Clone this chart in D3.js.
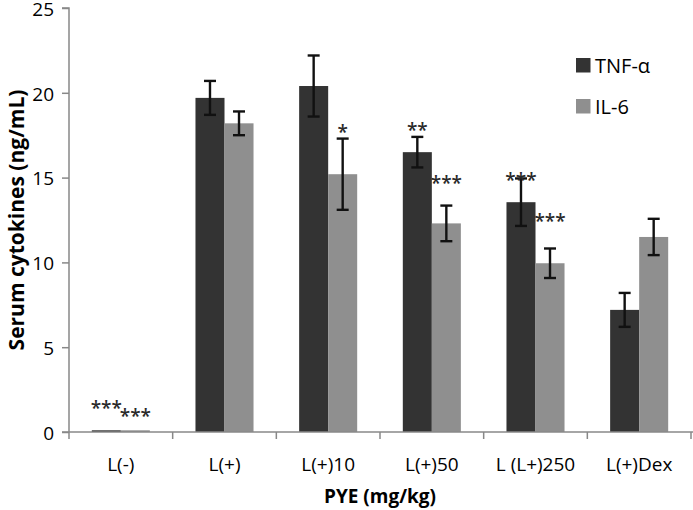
<!DOCTYPE html>
<html><head><meta charset="utf-8">
<script src="https://cdn.jsdelivr.net/npm/d3@7"></script>
<style>
html,body{margin:0;padding:0;background:#fff;}
svg{display:block;}
text{font-family:"Open Sans",sans-serif;}
</style></head>
<body>
<svg id="chart" width="693" height="510"></svg>
<script>
const categories = ["L(-)", "L(+)", "L(+)10", "L(+)50", "L (L+)250", "L(+)Dex"];
const seriesNames = ["TNF-α", "IL-6"];
const tnfValues = [0.1, 19.7, 20.4, 16.5, 13.55, 7.2];
const tnfErrors = [0, 1.0, 1.8, 0.9, 1.4, 1.0];
const il6Values = [0.1, 18.2, 15.2, 12.3, 9.95, 11.5];
const il6Errors = [0, 0.7, 2.1, 1.05, 0.87, 1.07];
const tnfSig = ["***", "", "", "**", "***", ""];
const il6Sig = ["***", "", "*", "***", "***", ""];
const tnfSigAt = [1.65, null, null, 18.06, 15.1, null];
const il6SigAt = [1.18, null, 17.9, 14.94, 12.65, null];
const yTicks = [0, 5, 10, 15, 20, 25];
const xTitle = "PYE (mg/kg)";
const yTitle = "Serum cytokines (ng/mL)";

(function () {
const colors = {"TNF-α": "#333333", "IL-6": "#8f8f8f"};
const svg = d3.select("#chart");
const mLeft = 69, mRight = 691, mTop = 8, mBottom = 432;

const x = d3.scaleBand().domain(categories).range([mLeft, mRight]).padding(0);
const xSub = d3.scaleBand().domain(seriesNames).range([0, x.bandwidth()]).paddingInner(0).paddingOuter(0.786);
const y = d3.scaleLinear().domain([0, 25]).range([mBottom, mTop]);

const rows = categories.map((c, i) => ({
  cat: c,
  items: [
    {s: "TNF-α", v: tnfValues[i], e: tnfErrors[i], sig: tnfSig[i], sigAt: tnfSigAt[i]},
    {s: "IL-6", v: il6Values[i], e: il6Errors[i], sig: il6Sig[i], sigAt: il6SigAt[i]}
  ]
}));

const g = svg.append("g");
rows.forEach(r => {
  r.items.forEach(it => {
    const bx = x(r.cat) + xSub(it.s);
    const bw = xSub.bandwidth();
    g.append("rect").attr("x", bx).attr("y", y(it.v)).attr("width", bw)
      .attr("height", y(0) - y(it.v)).attr("fill", colors[it.s]);
    if (it.e > 0) {
      const cx = bx + bw / 2;
      const eg = g.append("g").attr("stroke", "#111").attr("stroke-width", 2.4);
      eg.append("line").attr("x1", cx).attr("x2", cx).attr("y1", y(it.v + it.e)).attr("y2", y(it.v - it.e));
      eg.append("line").attr("x1", cx - 6).attr("x2", cx + 6).attr("y1", y(it.v + it.e)).attr("y2", y(it.v + it.e));
      eg.append("line").attr("x1", cx - 6).attr("x2", cx + 6).attr("y1", y(it.v - it.e)).attr("y2", y(it.v - it.e));
    }
    if (it.sig) {
      g.append("text").attr("x", bx + bw / 2).attr("y", y(it.sigAt) + 11)
        .attr("text-anchor", "middle").attr("font-size", 19).attr("font-weight", 600)
        .attr("fill", "#2a2a2a").text(it.sig);
    }
  });
});

const yAxis = d3.axisLeft(y).tickValues(yTicks).tickSize(7).tickPadding(8).tickFormat(d3.format("d"));
const ya = svg.append("g").attr("transform", `translate(${mLeft},0)`).call(yAxis);
ya.select(".domain").attr("stroke", "#888").attr("stroke-width", 1.5).attr("d", `M-7,${mTop}H0V${mBottom}`);
ya.selectAll(".tick line").attr("stroke", "#888").attr("stroke-width", 1.5);
ya.selectAll(".tick text").attr("font-size", 19).attr("fill", "#000").attr("font-family", "Open Sans").attr("dy", "0.38em");

const bounds = categories.map(c => x(c)).concat([mRight]);
const xa = svg.append("g");
xa.append("line").attr("x1", 62).attr("x2", 693).attr("y1", mBottom).attr("y2", mBottom)
  .attr("stroke", "#888").attr("stroke-width", 1.5);
xa.selectAll("line.t").data(bounds).join("line").attr("class", "t")
  .attr("x1", d => d).attr("x2", d => d).attr("y1", mBottom).attr("y2", mBottom + 7)
  .attr("stroke", "#888").attr("stroke-width", 1.5);
xa.selectAll("text").data(categories).join("text")
  .attr("x", d => x(d) + x.bandwidth() / 2).attr("y", 471)
  .attr("text-anchor", "middle").attr("font-size", 19).attr("fill", "#000").text(d => d);

svg.append("text").attr("x", (mLeft + mRight) / 2).attr("y", 503).attr("text-anchor", "middle")
  .attr("font-size", 19).attr("font-weight", "bold").attr("fill", "#000").text(xTitle);
svg.append("text").attr("transform", `translate(24,${(mTop + mBottom) / 2}) rotate(-90)`)
  .attr("text-anchor", "middle").attr("font-size", 21).attr("font-weight", "bold").attr("fill", "#000").text(yTitle);

const leg = svg.append("g");
const legY = [58, 99];
seriesNames.forEach((s, i) => {
  leg.append("rect").attr("x", 576).attr("y", legY[i]).attr("width", 14.5).attr("height", 14.5).attr("fill", colors[s]);
  leg.append("text").attr("x", 595).attr("y", legY[i] + 14.5).attr("font-size", 20).attr("fill", "#000").text(s);
});
})();
</script>
</body></html>
